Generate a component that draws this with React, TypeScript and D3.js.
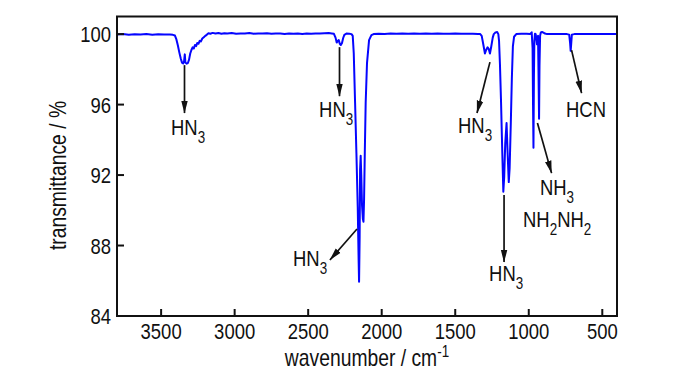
import React from "react";
import * as d3 from "d3";

// IR spectrum
const wavenumber = [
  3800, 3760, 3720, 3680, 3640, 3600, 3560, 3520, 3480, 3440, 3420, 3406, 3396, 3386, 3376, 3366, 3358, 3350, 3344, 3339,
  3335, 3327, 3318, 3310, 3302, 3294, 3286, 3278, 3270, 3262, 3254, 3246, 3238, 3230, 3220, 3210, 3200, 3190, 3178, 3165,
  3150, 3130, 3110, 3090, 3070, 3050, 3020, 2990, 2960, 2930, 2900, 2870, 2840, 2810, 2780, 2750, 2720, 2690, 2660, 2630,
  2600, 2570, 2540, 2510, 2480, 2450, 2420, 2390, 2360, 2340, 2325, 2314, 2306, 2298, 2292, 2285, 2278, 2270, 2262, 2254,
  2240, 2220, 2205, 2197, 2190, 2181, 2172, 2163, 2157, 2154, 2150, 2147, 2143, 2139, 2134, 2128, 2124, 2120, 2115, 2109,
  2100, 2086, 2070, 2055, 2020, 1980, 1940, 1900, 1860, 1820, 1780, 1740, 1700, 1660, 1620, 1580, 1540, 1500, 1460, 1420,
  1380, 1345, 1330, 1320, 1310, 1298, 1290, 1280, 1272, 1264, 1255, 1245, 1238, 1225, 1215, 1207, 1202, 1196, 1189, 1181,
  1173, 1167, 1160, 1151, 1144, 1136, 1130, 1122, 1115, 1108, 1100, 1085, 1050, 1015, 990, 980, 974, 971, 968, 965,
  962, 958, 953, 948, 944, 941, 937, 934, 930, 927, 923, 918, 910, 900, 890, 875, 800, 740, 725, 719,
  715, 711, 707, 690, 600, 500, 400,
];
const transmittance = [
  99.98, 100.0, 99.97, 99.99, 99.98, 100.0, 99.97, 99.99, 99.98, 99.98, 99.96, 99.92, 99.7, 99.35, 98.95, 98.6, 98.38, 98.33, 98.45, 98.85,
  98.4, 98.32, 98.36, 98.55, 98.9, 99.1, 99.25, 99.18, 99.38, 99.32, 99.5, 99.45, 99.62, 99.58, 99.75, 99.82, 99.9, 99.96, 100.05, 100.02,
  100.07, 100.03, 100.06, 100.02, 100.05, 100.03, 100.06, 100.02, 100.04, 100.03, 100.06, 100.02, 100.04, 100.03, 100.05, 100.02, 100.04, 100.03, 100.01, 100.04,
  100.02, 100.03, 100.01, 100.03, 100.02, 100.04, 100.03, 100.05, 100.06, 100.04, 100.02, 99.8, 99.52, 99.62, 99.66, 99.45, 99.38, 99.5, 99.78, 99.96,
  100.03, 100.02, 100.0, 99.9, 98.9, 96.1, 93.25, 90.2, 87.2, 85.95, 88.5, 92.3, 93.1, 92.0, 90.3, 89.5, 89.35, 90.6, 93.25, 96.1,
  98.35, 99.66, 99.94, 100.0, 100.02, 100.01, 100.03, 100.02, 100.03, 100.02, 100.03, 100.02, 100.03, 100.02, 100.03, 100.02, 100.02, 100.03, 100.02, 100.02,
  100.02, 100.01, 100.0, 99.9, 99.45, 98.9, 99.1, 99.25, 99.15, 98.9, 99.3, 99.8, 100.0, 100.1, 100.12, 100.0, 99.6, 98.3, 96.3, 93.6,
  91.05, 91.9, 93.8, 94.95, 93.3, 91.6, 92.4, 95.0, 97.5, 99.3, 99.85, 100.0, 100.02, 100.02, 100.01, 100.1, 99.2, 96.0, 93.55, 97.5,
  99.6, 100.02, 100.0, 99.7, 99.42, 99.85, 99.9, 98.0, 95.2, 98.2, 99.9, 100.1, 100.12, 100.08, 100.03, 100.0, 100.0, 100.0, 99.97, 99.5,
  99.05, 99.5, 99.97, 100.0, 100.0, 100.0, 100.0,
];

const xTicks = [3500, 3000, 2500, 2000, 1500, 1000, 500];
const yTicks = [84, 88, 92, 96, 100];

// labels: [text, "sub" | "sup" | ""]
const hn3 = [["HN", ""], ["3", "sub"]];
const labelParts = [hn3, hn3, hn3, hn3, hn3, [["NH", ""], ["3", "sub"]], [["NH", ""], ["2", "sub"], ["NH", ""], ["2", "sub"]], [["HCN", ""]]];
// label anchor (wavenumber, transmittance) = left end of text baseline
const labelAt = [[3433, 94.27], [2426, 95.29], [2603, 86.84], [1481, 94.38], [1270, 85.99], [924, 90.87], [1039, 89.05], [747, 95.29]];
// arrows: from (wn, T) to (wn, T)
const arrows = [
  [[3341, 98.24], [3341, 95.52]],
  [[2287, 99.26], [2287, 96.48]],
  [[2168, 88.94], [2352, 87.18]],
  [[1264, 98.41], [1352, 95.52]],
  [[1168, 90.87], [1168, 87.06]],
  [[941, 94.95], [845, 92.11]],
  [[709, 99.09], [641, 96.65]],
];

const FONT = "'Liberation Sans', Arial, Helvetica, sans-serif";
const SQUEEZE = 0.84;
const INK = "#111";

function Txt({ x, y, parts, size = 22, anchor = "start", rotate = 0 }) {
  const tr = `translate(${x},${y})` + (rotate ? ` rotate(${rotate})` : "") + ` scale(${SQUEEZE},1)`;
  return (
    <text transform={tr} fontSize={size} textAnchor={anchor} fontFamily={FONT} fill={INK}>
      {parts.map(([t, kind], i) => {
        const prev = i > 0 ? parts[i - 1][1] : "";
        let dy = 0;
        if (kind === "sub") dy += 8;
        if (kind === "sup") dy -= 9;
        if (prev === "sub") dy -= 8;
        if (prev === "sup") dy += 9;
        return (
          <tspan key={i} dy={dy} fontSize={kind ? 16 : size}>
            {t}
          </tspan>
        );
      })}
    </text>
  );
}

export default function App() {
  const width = 700, height = 374;
  const left = 117, right = 617, top = 16.5, bottom = 316;

  const x = d3.scaleLinear().domain([3800, 400]).range([left, right]);
  const y = d3.scaleLinear().domain([84, 101]).range([bottom, top]);

  const pts = wavenumber.map((w, i) => [w, transmittance[i]]);
  const line = d3.line().x((d) => x(d[0])).y((d) => y(d[1]));

  return (
    <svg
      width={width}
      height={height}
      viewBox={`0 0 ${width} ${height}`}
      style={{ position: "absolute", left: 0, top: 0, display: "block", background: "#fff" }}
    >
      <defs>
        <clipPath id="plot">
          <rect x={left} y={top} width={right - left} height={bottom - top} />
        </clipPath>
        <marker id="head" markerUnits="userSpaceOnUse" viewBox="0 -4 13 8" refX="12.5" refY="0" markerWidth="13" markerHeight="8" orient="auto">
          <path d="M0,-3.3 L13,0 L0,3.3 Z" fill={INK} />
        </marker>
      </defs>

      {/* spectrum */}
      <path d={line(pts)} fill="none" stroke="#0505ff" strokeWidth={2} strokeLinejoin="round" clipPath="url(#plot)" />

      {/* frame */}
      <rect x={left} y={top} width={right - left} height={bottom - top} fill="none" stroke={INK} strokeWidth={2} />

      {/* ticks, pointing inward */}
      {yTicks.map((v) => (
        <g key={"y" + v}>
          <line x1={left} x2={left + 7} y1={y(v)} y2={y(v)} stroke={INK} strokeWidth={2} />
          <Txt x={111} y={y(v) + 8} parts={[[String(v), ""]]} anchor="end" />
        </g>
      ))}
      {xTicks.map((v) => (
        <g key={"x" + v}>
          <line x1={x(v)} x2={x(v)} y1={bottom} y2={bottom - 7} stroke={INK} strokeWidth={2} />
          <Txt x={x(v)} y={339} parts={[[String(v), ""]]} anchor="middle" />
        </g>
      ))}

      {/* axis titles */}
      <Txt x={(left + right) / 2} y={366} size={23} anchor="middle" parts={[["wavenumber / cm", ""], ["-1", "sup"]]} />
      <Txt x={66} y={175.5} size={23} anchor="middle" rotate={-90} parts={[["transmittance / %", ""]]} />

      {/* annotations */}
      {arrows.map(([a, b], i) => (
        <line key={"a" + i} x1={x(a[0])} y1={y(a[1])} x2={x(b[0])} y2={y(b[1])} stroke={INK} strokeWidth={1.7} markerEnd="url(#head)" />
      ))}
      {labelParts.map((parts, i) => (
        <Txt key={"l" + i} x={x(labelAt[i][0])} y={y(labelAt[i][1])} parts={parts} />
      ))}
    </svg>
  );
}
